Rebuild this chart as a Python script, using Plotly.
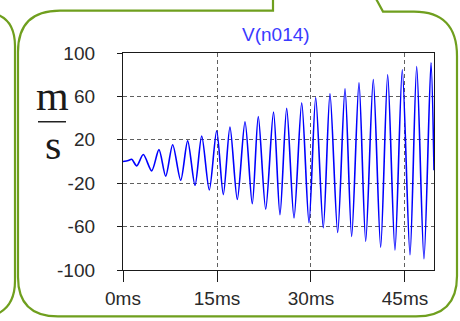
import plotly.graph_objects as go

# Waveform vertices (time in ms, value) - extrema of the oscillation
time_ms = [0.0, 0.85, 1.39, 2.19, 3.24, 4.58, 5.74, 6.81, 7.93, 9.21, 10.32,
           11.49, 12.56, 13.77, 14.95, 16.01, 17.07, 18.24, 19.47, 20.63,
           21.59, 22.77, 24.02, 25.05, 26.12, 27.29, 28.52, 29.68, 30.75,
           31.96, 33.03, 34.26, 35.43, 36.49, 37.66, 38.73, 39.94, 41.12,
           42.24, 43.40, 44.57, 45.80, 46.87, 48.03, 49.15, 49.63]
values = [0.0, 1.0, 2.0, -4.0, 6.4, -8.6, 10.9, -13.5, 15.5, -17.3, 19.0,
          -22.0, 23.5, -26.3, 28.3, -30.5, 31.8, -35.0, 36.6, -39.0, 41.5,
          -44.0, 45.5, -49.0, 49.0, -52.0, 54.0, -56.4, 59.0, -61.0, 62.5,
          -65.5, 67.0, -69.0, 72.5, -73.5, 75.5, -79.0, 80.0, -81.5, 84.5,
          -86.0, 87.5, -89.7, 91.0, -8.0]

x_tickvals = [0, 15, 30, 45]
x_ticktext = ["0ms", "15ms", "30ms", "45ms"]
y_tickvals = [-100, -60, -20, 20, 60, 100]
y_ticktext = ["-100", "-60", "-20", "20", "60", "100"]
trace_name = "V(n014)"

W_FIG, H_FIG = 460, 321
L, R, T, B = 123, 26, 53, 48
PW, PH = W_FIG - L - R, H_FIG - T - B


def px(x):
    return (x - L) / PW


def py(y):
    return (H_FIG - B - y) / PH


def path(cmds):
    out = []
    for c in cmds:
        if isinstance(c, str):
            out.append(c)
        else:
            out.append(f"{px(c[0]):.5f},{py(c[1]):.5f}")
    return " ".join(out)


GREEN = "#6f9f1e"

# main speech bubble with a tail opening at the top
bubble = path(["M", (273, -2), "L", (273, 10), "L", (60, 10),
               "Q", (18, 10), (18, 52),
               "L", (18, 280),
               "Q", (18, 320), (58, 320),
               "L", (416, 320),
               "Q", (457, 320), (457, 279),
               "L", (457, 56),
               "Q", (457, 11), (414, 11),
               "L", (383, 11), "L", (376, -2)])

# neighbouring bubble edge on the left
left_bubble = path(["M", (-10, 12), "Q", (15, 16), (15, 46),
                    "L", (15, 284),
                    "Q", (15, 314), (-10, 320)])

fig = go.Figure()
fig.add_trace(go.Scatter(
    x=time_ms, y=values, mode="lines", name=trace_name,
    line=dict(color="#0000ff", width=1.6, shape="spline", smoothing=0.8),
    showlegend=False, hoverinfo="skip",
))

tick_font = dict(family="Liberation Sans, Arial, sans-serif", size=19, color="#2a2a2a")

fig.update_layout(
    width=W_FIG, height=H_FIG,
    margin=dict(l=L, r=R, t=T, b=B, pad=0),
    paper_bgcolor="white", plot_bgcolor="white",
    xaxis=dict(
        range=[0, 49.63], tickvals=x_tickvals, ticktext=x_ticktext,
        showgrid=True, gridcolor="#606060", gridwidth=1, griddash="4px,3px",
        zeroline=False, showline=True, linecolor="#1a1a1a", linewidth=1.3,
        mirror=True, ticks="outside", ticklen=11, tickcolor="#1a1a1a",
        tickwidth=1.3, tickfont=tick_font,
    ),
    yaxis=dict(
        range=[-100, 100], tickvals=y_tickvals, ticktext=y_ticktext,
        showgrid=True, gridcolor="#606060", gridwidth=1, griddash="4px,3px",
        zeroline=False, showline=True, linecolor="#1a1a1a", linewidth=1.3,
        mirror=True, ticks="outside", ticklen=5, tickcolor="#1a1a1a",
        tickwidth=1.3, tickfont=tick_font, ticklabelstandoff=18,
    ),
    shapes=[
        dict(type="path", path=bubble, xref="paper", yref="paper",
             line=dict(color=GREEN, width=2.2), layer="above"),
        dict(type="path", path=left_bubble, xref="paper", yref="paper",
             line=dict(color=GREEN, width=2.2), layer="above"),
        # fraction bar of the unit label
        dict(type="line", xref="paper", yref="paper",
             x0=px(38), x1=px(66), y0=py(122.7), y1=py(122.7),
             line=dict(color="#222222", width=1.5)),
    ],
    annotations=[
        dict(text=trace_name, x=px(276), y=py(34), xref="paper", yref="paper",
             showarrow=False, xanchor="center", yanchor="middle",
             font=dict(family="Liberation Sans, Arial, sans-serif", size=19,
                       color="#3a3aff")),
        dict(text="m", x=px(52), y=py(97), xref="paper", yref="paper",
             showarrow=False, xanchor="center", yanchor="middle",
             font=dict(family="Liberation Serif, Times New Roman, serif",
                       size=42, color="#1a1a1a")),
        dict(text="s", x=px(52.5), y=py(146), xref="paper", yref="paper",
             showarrow=False, xanchor="center", yanchor="middle",
             font=dict(family="Liberation Serif, Times New Roman, serif",
                       size=42, color="#1a1a1a")),
    ],
)

fig.write_html("out.html")
